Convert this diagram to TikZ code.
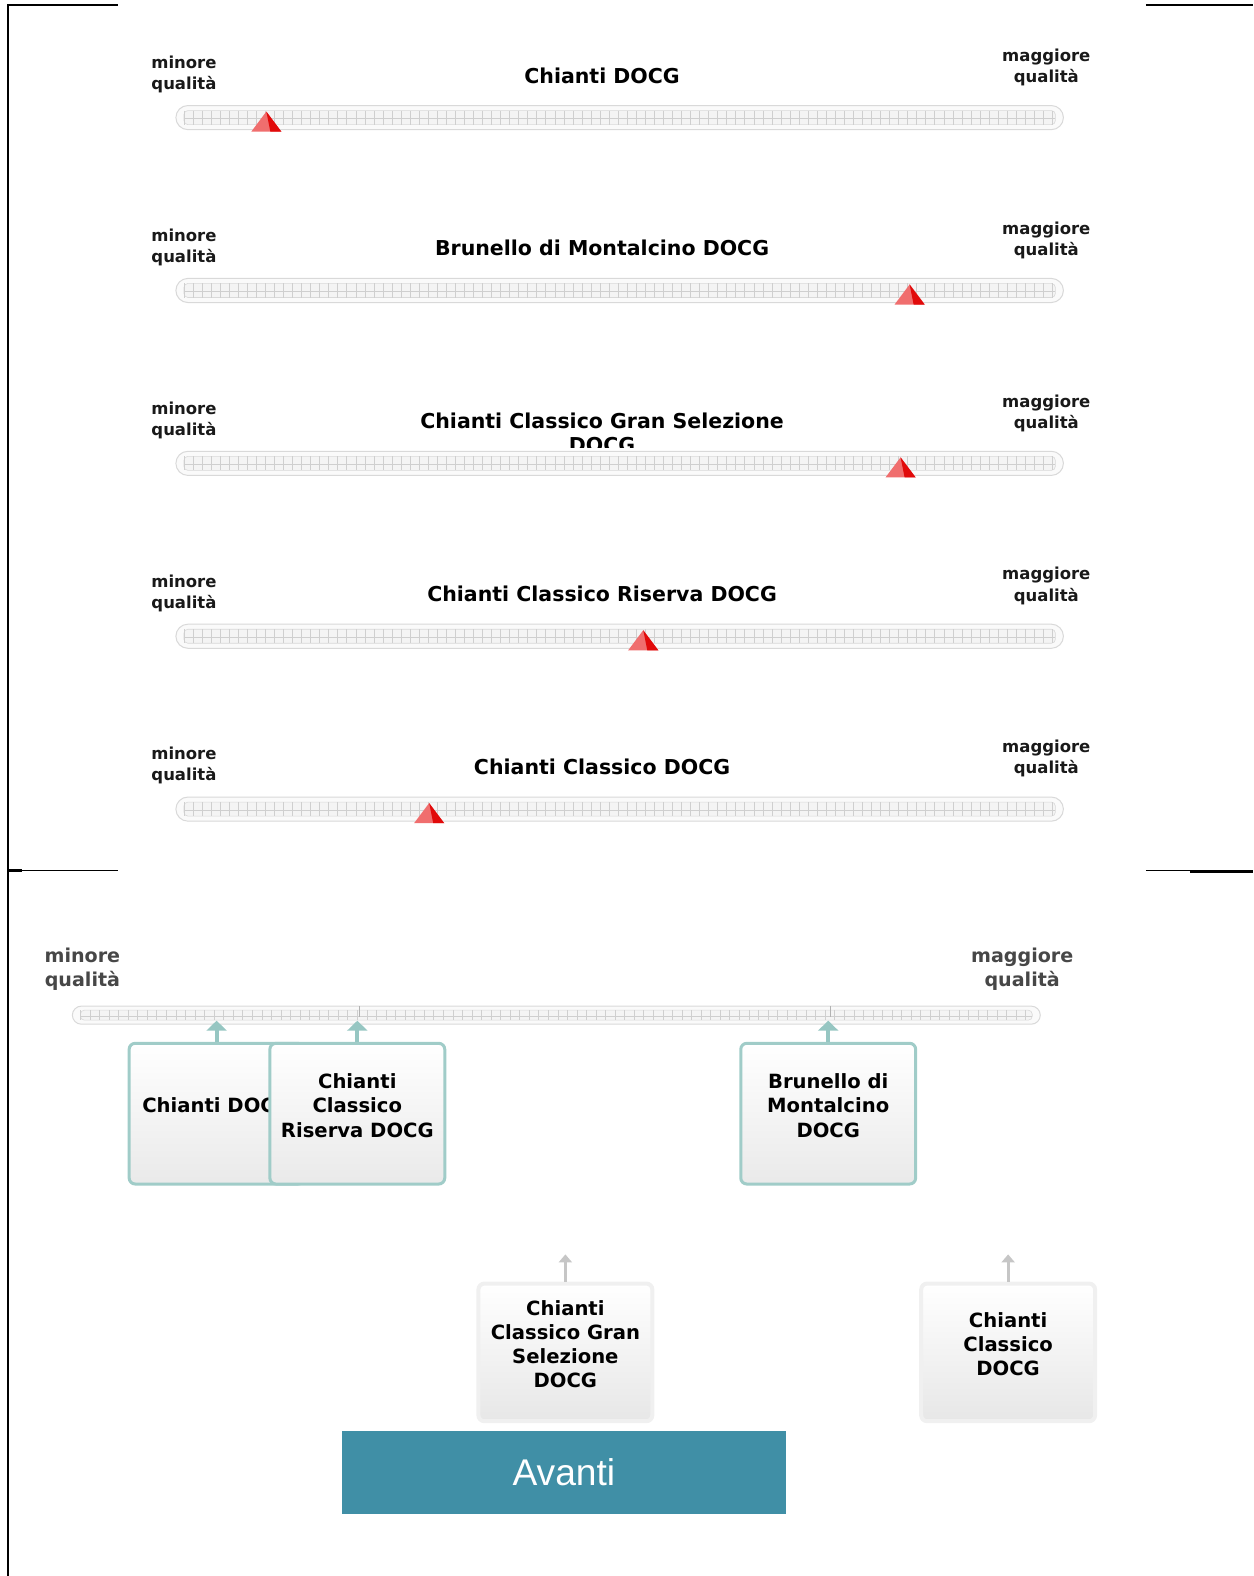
\documentclass[tikz,border=0pt]{standalone}
\usepackage{fontspec}
\setmainfont{DejaVu Sans}
\newfontfamily\btnfont{Liberation Sans}
\usetikzlibrary{arrows.meta, calc}
\definecolor{tealbd}{RGB}{160,204,200}
\definecolor{tealarr}{RGB}{150,198,194}
\definecolor{btnblue}{RGB}{64,143,166}
\definecolor{mklight}{RGB}{240,110,110}
\definecolor{mkdark}{RGB}{225,10,10}

\begin{document}
\begin{tikzpicture}[x=0.5pt, y=-0.5pt,
  frame/.style  = {draw=black, line width=1.3pt},
  title/.style  = {font=\fontsize{10.2}{12}\selectfont\bfseries, align=center, inner sep=0pt},
  endlbl/.style = {font=\fontsize{8.2}{10.5}\selectfont\bfseries, align=center, inner sep=0pt, text=black!90},
  bigend/.style = {font=\fontsize{9.5}{12}\selectfont\bfseries, align=center, inner sep=0pt, text=black!72},
  bar/.style    = {draw=gray!30, line width=0.5pt, rounded corners=6pt, fill=gray!4, inner sep=0pt},
  track/.style  = {draw=gray!30, line width=0.3pt, fill=gray!9, rounded corners=2pt},
  tick/.style   = {draw=gray!38, line width=0.3pt},
  tcard/.style  = {draw=tealbd, line width=1.5pt, rounded corners=3pt, top color=white,
                   bottom color=gray!17, minimum width=87pt, minimum height=70pt, inner sep=0pt},
  gcard/.style  = {draw=gray!12, line width=2pt, rounded corners=3pt, top color=white,
                   bottom color=gray!19, minimum width=86.5pt, minimum height=68.5pt, inner sep=0pt},
  ctext/.style  = {font=\fontsize{9.75}{12}\selectfont\bfseries, align=center, inner sep=0pt},
  tarr/.style   = {-{Triangle[width=10pt, length=5pt]}, line width=2pt, draw=tealarr, fill=tealarr},
  garr/.style   = {-{Triangle[width=6.5pt, length=4pt]}, line width=1.5pt, draw=gray!45, fill=gray!45},
  btn/.style    = {fill=btnblue, text=white, font=\btnfont\fontsize{18.5}{20}\selectfont,
                   minimum width=221pt, minimum height=41pt, inner sep=0pt},
]
\useasboundingbox (0,0) rectangle (1247,1568);

% frame lines
\draw[frame] (8,4) -- (8,1568);
\draw[frame] (8,5) -- (117,5);
\draw[frame] (1140,5) -- (1247,5);
\draw[line width=0.6pt] (8,866) -- (117,866);
\draw[frame] (8,866) -- (22,866);
\draw[line width=0.6pt] (1140,866) -- (1184,866);
\draw[frame] (1184,867) -- (1247,867);

% the five rating sliders
\foreach \i/\ty/\name/\mx in {0/75/{Chianti DOCG}/265,
                              1/75/{Brunello di Montalcino DOCG}/905,
                              2/87/{Chianti Classico Gran Selezione\\DOCG}/896,
                              3/75/{Chianti Classico Riserva DOCG}/640,
                              4/75/{Chianti Classico DOCG}/427}{
  \pgfmathsetmacro\y{117+172*\i}
  \node[title]  (title\i) at (599, \ty+172*\i) {\name};
  \node[endlbl] (lmin\i)  at (183, 74+172*\i) {minore\\qualità};
  \node[endlbl] (lmax\i)  at (1041, 67+172*\i) {maggiore\\qualità};
  \fill[white] (168,\y-15) rectangle (1065,\y+16);
  \node[bar, minimum width=441.5pt, minimum height=12pt] (bar\i) at (616.5,\y) {};
  \draw[track] (183,\y-7) rectangle (1050,\y+7);
  \foreach \t in {0,...,96}
    \draw[tick] (183+9*\t,\y-7) -- ++(0,14);
  \draw[tick] (183,\y+1) -- (1050,\y+1);
  % marker
  \fill[mklight] (\mx,\y-6) -- (\mx+15,\y+14) -- (\mx-15,\y+14) -- cycle;
  \fill[mkdark] (\mx,\y-6) -- (\mx+15,\y+14) -- (\mx+4,\y+14) -- cycle;
}

% bottom: ranking scale
\node[bigend] (lminb) at (82, 964) {minore\\qualità};
\node[bigend] (lmaxb) at (1017, 964) {maggiore\\qualità};
\node[bar, minimum width=481.5pt, minimum height=9pt, rounded corners=4.5pt] (bbar) at (553.5,1010) {};
\draw[track] (80,1005) rectangle (1027,1015);
\foreach \t in {0,...,99}
  \draw[tick] (80+9.5*\t,1005) -- ++(0,10);
\draw[tick] (80,1011) -- (1027,1011);
\draw[draw=gray!60, line width=0.4pt] (358,1001) -- (358,1012);
\draw[draw=gray!60, line width=0.4pt] (826,1001) -- (826,1012);

% placed cards
\node[tcard] (cdocg) at (215.5,1108) {};
\node[ctext] (tdocg) at ([yshift=4pt]cdocg.center) {Chianti DOCG};
\node[tcard] (criserva) at (355.5,1108) {};
\node[ctext] (triserva) at ([yshift=4pt]criserva.center) {Chianti\\Classico\\Riserva DOCG};
\node[tcard] (cbrun) at (824,1108) {};
\node[ctext] (tbrun) at ([yshift=4pt]cbrun.center) {Brunello di\\Montalcino\\DOCG};

\draw[tarr, shorten >=-2pt] (cdocg.north) -- (cdocg.north |- bbar.south);
\draw[tarr, shorten >=-2pt] (criserva.north) -- (criserva.north |- bbar.south);
\draw[tarr, shorten >=-2pt] (cbrun.north) -- (cbrun.north |- bbar.south);

% cards still to place
\node[gcard] (cgran) at (562.5,1345.5) {};
\node[ctext] (tgran) at ([yshift=4pt]cgran.center) {Chianti\\Classico Gran\\Selezione\\DOCG};
\node[gcard] (cclass) at (1003,1345.5) {};
\node[ctext] (tclass) at ([yshift=4pt]cclass.center) {Chianti\\Classico\\DOCG};

\coordinate (agran)  at ([yshift=13.5pt]cgran.north);
\coordinate (aclass) at ([yshift=13.5pt]cclass.north);
\draw[garr] (cgran.north) -- (agran);
\draw[garr] (cclass.north) -- (aclass);

\node[btn] (avanti) at (561,1465) {Avanti};
\end{tikzpicture}
\end{document}
